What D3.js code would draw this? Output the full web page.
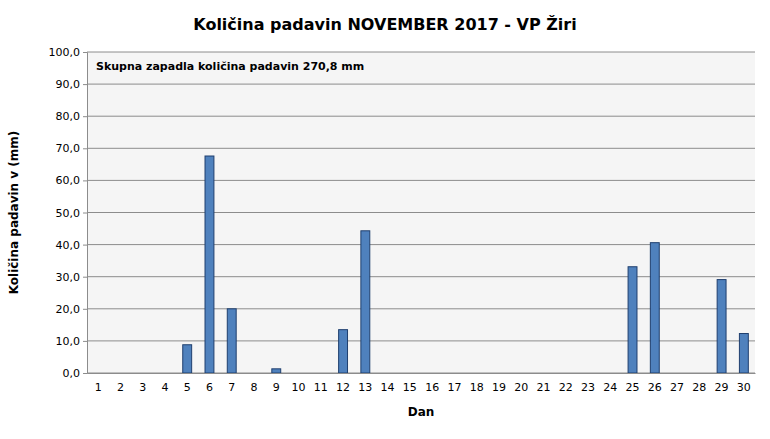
<!DOCTYPE html>
<html><head><meta charset="utf-8">
<script src="https://cdn.jsdelivr.net/npm/d3@7"></script>
<style>body{margin:0;background:#fff;font-family:"DejaVu Sans",sans-serif;}</style>
</head><body>
<svg id="chart" width="770" height="439"></svg>
<script>
const days = d3.range(1, 31).map(String);
const rain = [0,0,0,0,8.8,67.6,20.0,0,1.3,0,0,13.5,44.3,0,0,0,0,0,0,0,0,0,0,0,33.1,40.6,0,0,29.1,12.3];
const yTicks = d3.range(0, 101, 10);

const svg = d3.select("#chart");
const margin = {top: 52, right: 15, bottom: 66, left: 87};
const width = 770 - margin.left - margin.right;
const height = 439 - margin.top - margin.bottom;
const g = svg.append("g").attr("transform", `translate(${margin.left},${margin.top})`);

const x = d3.scaleBand().domain(days).range([0, width]).paddingInner(0.6).paddingOuter(0.3);
const y = d3.scaleLinear().domain([0, 100]).range([height, 0]);

g.append("rect").attr("width", width).attr("height", height).attr("fill", "#f5f5f5");

g.selectAll(".grid").data(yTicks).enter().append("line")
    .attr("x1", 0).attr("x2", width)
    .attr("y1", d => y(d)).attr("y2", d => y(d))
    .attr("stroke", "#8c8c8c").attr("stroke-width", 1);

g.selectAll(".bar").data(rain).enter().append("rect")
    .attr("x", (d, i) => x(days[i]))
    .attr("y", d => y(d))
    .attr("width", x.bandwidth())
    .attr("height", d => height - y(d))
    .attr("fill", "#4f81bd").attr("stroke", "#1f3f6e").attr("stroke-width", 1)
    .style("display", d => d > 0 ? null : "none");

const yAxis = g.append("g").call(d3.axisLeft(y).tickValues(yTicks).tickSize(4)
    .tickFormat(d => d3.format(".1f")(d).replace(".", ",")));
const xAxis = g.append("g").attr("transform", `translate(0,${height})`)
    .call(d3.axisBottom(x).tickSize(0).tickPadding(10));
[yAxis, xAxis].forEach(a => {
    a.selectAll("path,line").attr("stroke", "#8c8c8c");
    a.selectAll("text").attr("font-size", 11).attr("fill", "#000").attr("font-family", "DejaVu Sans");
});

svg.append("text").attr("x", 385).attr("y", 30).attr("text-anchor", "middle")
    .attr("font-size", 16).attr("font-weight", "bold").text("Količina padavin NOVEMBER 2017 - VP Žiri");
svg.append("text").attr("x", margin.left + width / 2).attr("y", 416).attr("text-anchor", "middle")
    .attr("font-size", 12).attr("font-weight", "bold").text("Dan");
svg.append("text").attr("transform", `translate(18,${margin.top + height / 2}) rotate(-90)`)
    .attr("text-anchor", "middle").attr("font-size", 12).attr("font-weight", "bold").text("Količina padavin v  (mm)");
svg.append("text").attr("x", 96).attr("y", 70).attr("font-size", 11).attr("font-weight", "bold")
    .text("Skupna zapadla količina padavin 270,8 mm");
</script>
</body></html>
